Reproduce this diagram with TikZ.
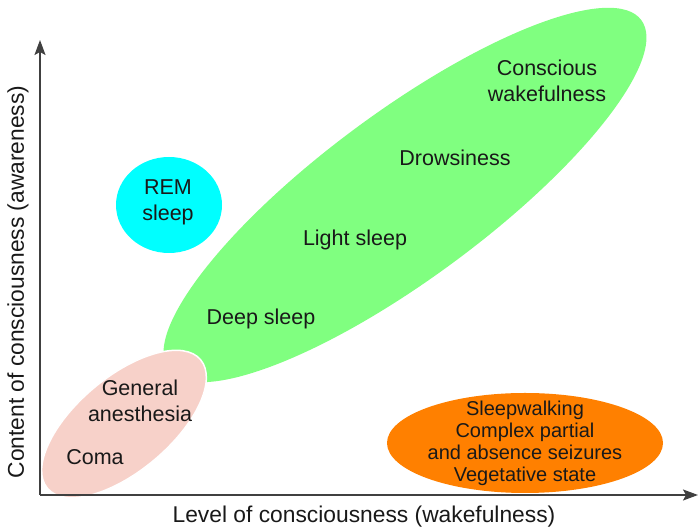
\documentclass[tikz,border=0pt]{standalone}
\usepackage{fontspec}
\setmainfont{Liberation Sans}
\usepackage{tikz}
\usetikzlibrary{arrows.meta}
\usepackage{xcolor}
\definecolor{wakegreen}{HTML}{80FF80}
\definecolor{remcyan}{HTML}{00FFFF}
\definecolor{comapink}{HTML}{F7D1C9}
\definecolor{sworange}{HTML}{FF8000}
\tikzset{
    lbl/.style={font=\fontsize{21.5}{26}\selectfont, align=center, inner sep=0pt, text=black!90},
    axlbl/.style={lbl, font=\fontsize{22.8}{27}\selectfont},
    axis/.style={line width=1.6pt, draw=black!75, -{Stealth[length=15pt,width=11pt,inset=3pt]}}
}

\begin{document}
\begin{tikzpicture}[x=1pt,y=1pt]
                \useasboundingbox (0,0) rectangle (699,532);
                % regions
                \fill[wakegreen, rotate around={36.5:(405,337)}] (405,337) ellipse [x radius=294, y radius=83];
                \filldraw[fill=comapink, draw=white, line width=1.5pt, rotate around={40:(124,108)}] (124,108) ellipse [x radius=100, y radius=47];
                \fill[remcyan] (169,327) ellipse [x radius=53, y radius=48];
                \fill[sworange] (525,89) ellipse [x radius=138, y radius=50];
                % axes
                \coordinate (O) at (40,37);
                \coordinate (Ytop) at (40,492);
                \coordinate (Xend) at (698,37);
                \draw[axis] (O) -- (Ytop);
                \draw[axis] (O) -- (Xend);
                \node[axlbl] (xlab) at (364,15) {Level of consciousness (wakefulness)};
                \node[axlbl, rotate=90] (ylab) at (18,250) {Content of consciousness (awareness)};
                % states
                \node[lbl] (awake) at (547,451) {Conscious\\wakefulness};
                \node[lbl] (drowsy) at (455,374) {Drowsiness};
                \node[lbl] (light) at (355,292) {Light sleep};
                \node[lbl] (deep) at (261,213) {Deep sleep};
                \node[lbl] (rem) at (168,330) {REM\\sleep};
                \node[lbl] (anesth) at (140,131) {General\\anesthesia};
                \node[lbl] (coma) at (95,75) {Coma};
                \node[lbl, font=\fontsize{20}{22}\selectfont] (dissoc) at (525,89) {Sleepwalking\\Complex partial\\and absence seizures\\Vegetative state};
\end{tikzpicture}
\end{document}
